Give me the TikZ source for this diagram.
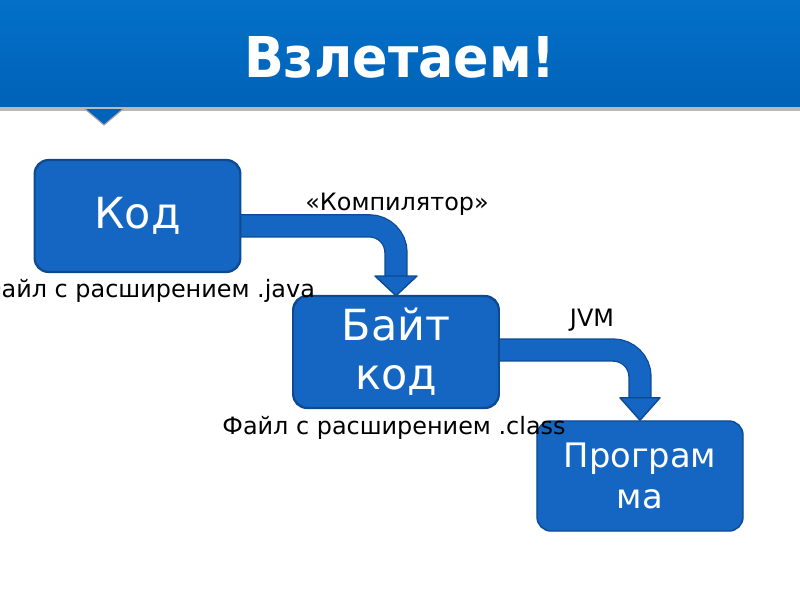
\documentclass[tikz,border=0pt]{standalone}
\usepackage{fontspec}
\setmainfont{DejaVu Sans}
\newfontfamily\titlefont{DejaVu Sans}[FakeStretch=0.93]
\definecolor{hdrtop}{RGB}{4,112,200}
\definecolor{hdrmid}{RGB}{0,82,160}
\definecolor{hdrbot}{RGB}{0,98,184}
\definecolor{boxblue}{RGB}{20,102,194}
\definecolor{boxline}{RGB}{14,74,146}

\begin{document}
\begin{tikzpicture}[x=0.025cm,y=-0.025cm,
  box/.style={draw=boxline,fill=boxblue,line width=1pt,rounded corners=10pt,
    text=white,align=center,inner sep=0pt,minimum width=5.125cm,minimum height=2.78cm},
  bigtxt/.style={font=\fontsize{30.5}{34.7}\selectfont},
  lbl/.style={font=\fontsize{17}{20}\selectfont,anchor=base,inner sep=0pt},
  bandout/.style={draw=boxline,line width=16.6pt,rounded corners=19pt},
  bandin/.style={draw=boxblue,line width=14.8pt,rounded corners=19pt},
  head/.style={fill=boxblue,draw=boxline,line width=1pt,line join=round}]
\useasboundingbox (0,0) rectangle (800,600);
\clip (0,0) rectangle (800,600);
% title bar
\shade[top color=hdrtop,middle color=hdrmid,bottom color=hdrbot] (0,0) rectangle (800,107);
\fill[gray!55] (0,107) rectangle (800,110.5);
\filldraw[fill=hdrbot,draw=gray!70,line width=0.8pt] (85,109) -- (104,125) -- (123,109);
\node[font=\titlefont\bfseries\fontsize{40}{44}\selectfont,text=white,anchor=base,inner sep=0pt] (title) at (400,77) {Взлетаем!};
% boxes
\node[box,bigtxt] (kod) at (137.5,216) {Код};
\node[box,bigtxt] (bayt) at (396,352) {Байт\\код};
\node[box,font=\fontsize{24}{29}\selectfont,minimum width=5.15cm,minimum height=2.75cm] (prog) at (640,476) {Програм\\ма};
% bent arrows
\coordinate (h1) at ([yshift=14pt]bayt.north);
\coordinate (h2) at ([yshift=16pt]prog.north);
\draw[bandout] ([yshift=-7pt]kod.east) -| (h1);
\draw[bandin] ([yshift=-7pt]kod.east) -| (h1);
\draw[head] (h1) ++(-21,0) -- ++(42,0) -- (bayt.north) -- cycle;
\draw[bandout] ([yshift=1.4pt]bayt.east) -| (h2);
\draw[bandin] ([yshift=1.4pt]bayt.east) -| (h2);
\draw[head] (h2) ++(-20,0) -- ++(40,0) -- (prog.north) -- cycle;
% redraw box edges over band ends
\draw[boxline,line width=1pt,rounded corners=10pt] (kod.north west) rectangle (kod.south east);
\draw[boxline,line width=1pt,rounded corners=10pt] (bayt.north west) rectangle (bayt.south east);
% labels
\node[lbl] (comp) at (397,210) {«Компилятор»};
\node[lbl] (jvm) at (592,326) {JVM};
\node[lbl] (java) at (148,297) {Файл с расширением .java};
\node[lbl] (cls) at (394,434) {Файл с расширением .class};
\end{tikzpicture}
\end{document}
